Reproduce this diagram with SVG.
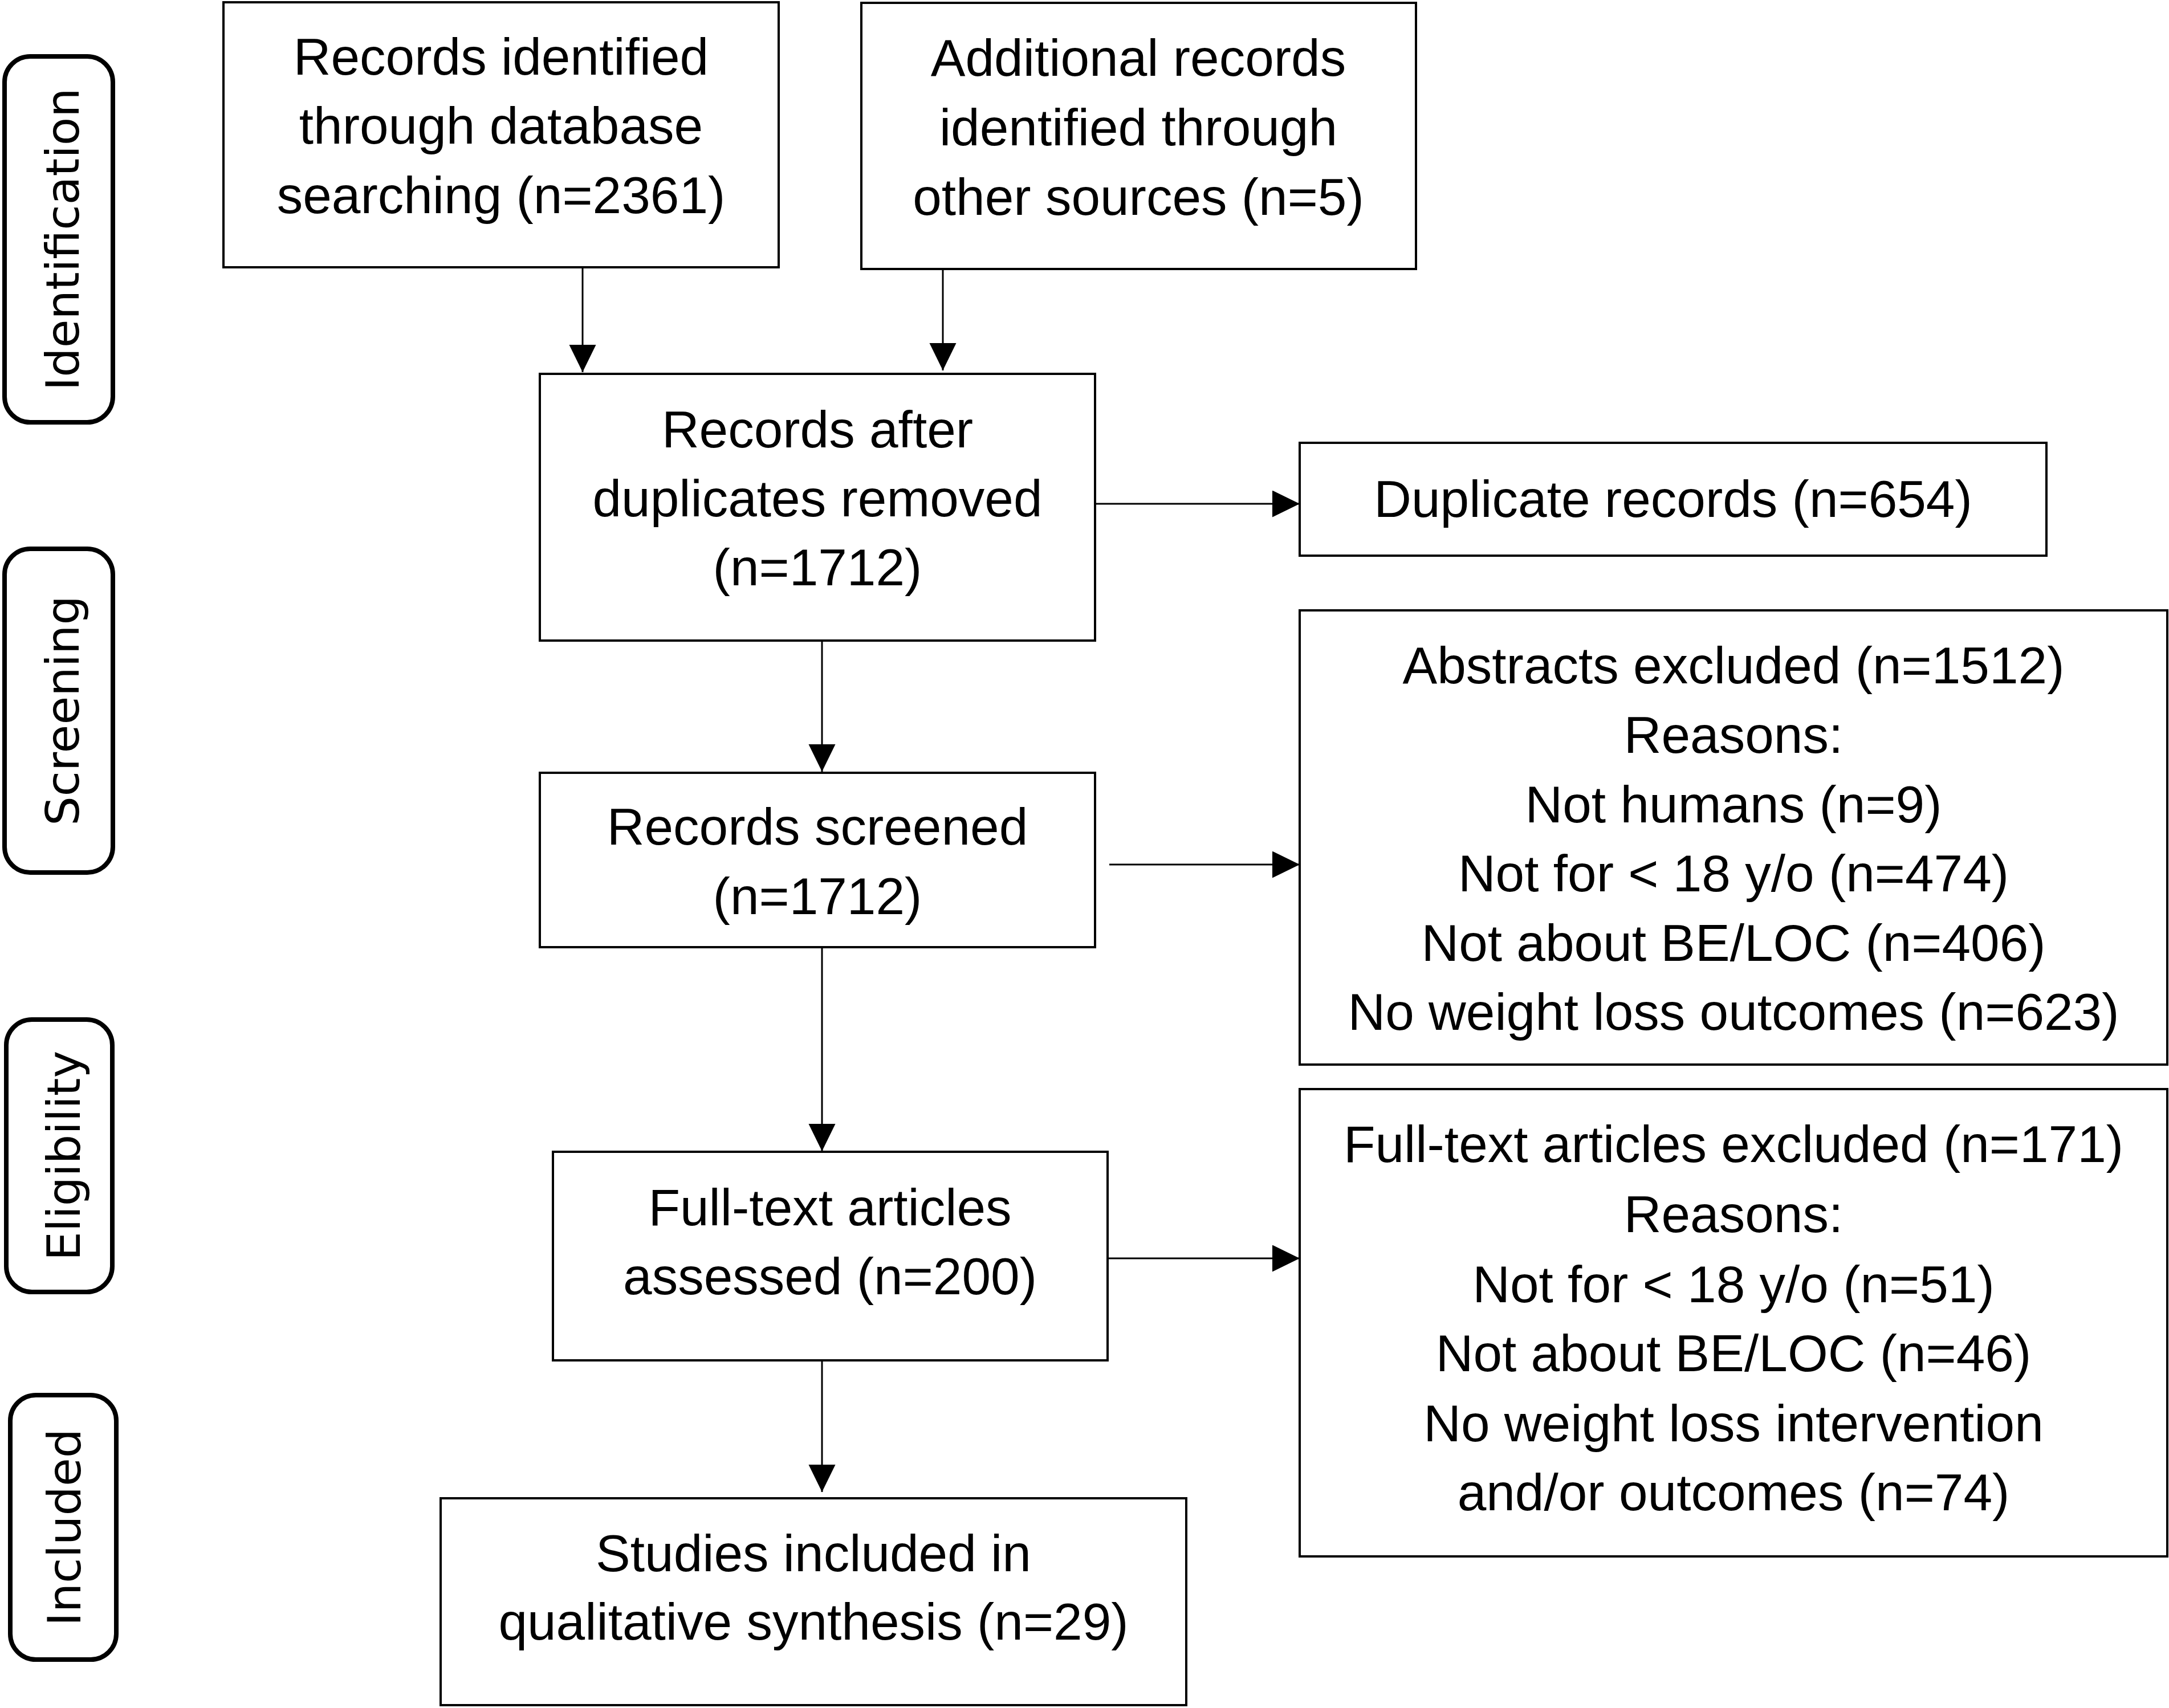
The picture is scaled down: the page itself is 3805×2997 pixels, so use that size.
<svg xmlns="http://www.w3.org/2000/svg" width="3805" height="2997" viewBox="0 0 3805 2997">
<style>
.box{fill:#fff;stroke:#000;stroke-width:4}
.lab{fill:#fff;stroke:#000;stroke-width:8}
.t{font-family:"Liberation Sans",Arial,sans-serif;font-size:91px;fill:#000;text-anchor:middle}
.s{font-family:"DejaVu Sans",Verdana,sans-serif;font-size:81px;fill:#000;text-anchor:middle}
.c{stroke:#000;stroke-width:3;fill:none}
</style>
<defs>
<marker id="ah" markerUnits="userSpaceOnUse" markerWidth="50" markerHeight="48" refX="48" refY="23.5" orient="auto">
<path d="M0,0 L48,23.5 L0,47 Z" fill="#000"/>
</marker>
</defs>
<rect width="3805" height="2997" fill="#fff"/>
<g id="label-identification">
<rect class="lab" x="8" y="99" width="190" height="642" rx="45"/>
<text class="s" transform="translate(138,420) rotate(-90)">Identification</text>
</g>
<g id="label-screening">
<rect class="lab" x="8" y="963" width="190" height="568" rx="45"/>
<text class="s" transform="translate(138,1247) rotate(-90)">Screening</text>
</g>
<g id="label-eligibility">
<rect class="lab" x="11" y="1789" width="186" height="478" rx="45"/>
<text class="s" transform="translate(140,2028) rotate(-90)">Eligibility</text>
</g>
<g id="label-included">
<rect class="lab" x="18" y="2448" width="186" height="464" rx="45"/>
<text class="s" transform="translate(141,2680) rotate(-90)">Included</text>
</g>
<g id="n1">
<rect class="box" x="392" y="4" width="974" height="465"/>
<text class="t" x="879" y="131">Records identified</text>
<text class="t" x="879" y="252">through database</text>
<text class="t" x="879" y="374">searching (n=2361)</text>
</g>
<g id="n2">
<rect class="box" x="1511" y="5" width="973" height="467"/>
<text class="t" x="1997" y="133">Additional records</text>
<text class="t" x="1997" y="255">identified through</text>
<text class="t" x="1997" y="377">other sources (n=5)</text>
</g>
<g id="n3">
<rect class="box" x="947" y="656" width="974" height="468"/>
<text class="t" x="1434" y="785">Records after</text>
<text class="t" x="1434" y="906">duplicates removed</text>
<text class="t" x="1434" y="1027">(n=1712)</text>
</g>
<g id="n4">
<rect class="box" x="2280" y="777" width="1310" height="198"/>
<text class="t" x="2935" y="907">Duplicate records (n=654)</text>
</g>
<g id="n5">
<rect class="box" x="947" y="1356" width="974" height="306"/>
<text class="t" x="1434" y="1482">Records screened</text>
<text class="t" x="1434" y="1604">(n=1712)</text>
</g>
<g id="n6">
<rect class="box" x="2280" y="1071" width="1522" height="797"/>
<text class="t" x="3041" y="1199">Abstracts excluded (n=1512)</text>
<text class="t" x="3041" y="1321">Reasons:</text>
<text class="t" x="3041" y="1443">Not humans (n=9)</text>
<text class="t" x="3041" y="1564">Not for &lt; 18 y/o (n=474)</text>
<text class="t" x="3041" y="1686">Not about BE/LOC (n=406)</text>
<text class="t" x="3041" y="1807">No weight loss outcomes (n=623)</text>
</g>
<g id="n7">
<rect class="box" x="970" y="2021" width="973" height="366"/>
<text class="t" x="1456" y="2150">Full-text articles</text>
<text class="t" x="1456" y="2271">assessed (n=200)</text>
</g>
<g id="n8">
<rect class="box" x="2280" y="1911" width="1522" height="820"/>
<text class="t" x="3041" y="2039">Full-text articles excluded (n=171)</text>
<text class="t" x="3041" y="2162">Reasons:</text>
<text class="t" x="3041" y="2285">Not for &lt; 18 y/o (n=51)</text>
<text class="t" x="3041" y="2406">Not about BE/LOC (n=46)</text>
<text class="t" x="3041" y="2529">No weight loss intervention</text>
<text class="t" x="3041" y="2650">and/or outcomes (n=74)</text>
</g>
<g id="n9">
<rect class="box" x="773" y="2629" width="1308" height="363"/>
<text class="t" x="1427" y="2757">Studies included in</text>
<text class="t" x="1427" y="2877">qualitative synthesis (n=29)</text>
</g>
<g id="connectors">
<line class="c" x1="1022" y1="469" x2="1022" y2="653" marker-end="url(#ah)"/>
<line class="c" x1="1654" y1="472" x2="1654" y2="650" marker-end="url(#ah)"/>
<line class="c" x1="1921" y1="884" x2="2280" y2="884" marker-end="url(#ah)"/>
<line class="c" x1="1442" y1="1124" x2="1442" y2="1354" marker-end="url(#ah)"/>
<line class="c" x1="1946" y1="1517" x2="2280" y2="1517" marker-end="url(#ah)"/>
<line class="c" x1="1442" y1="1662" x2="1442" y2="2020" marker-end="url(#ah)"/>
<line class="c" x1="1943" y1="2208" x2="2280" y2="2208" marker-end="url(#ah)"/>
<line class="c" x1="1442" y1="2387" x2="1442" y2="2618" marker-end="url(#ah)"/>
</g>
</svg>
